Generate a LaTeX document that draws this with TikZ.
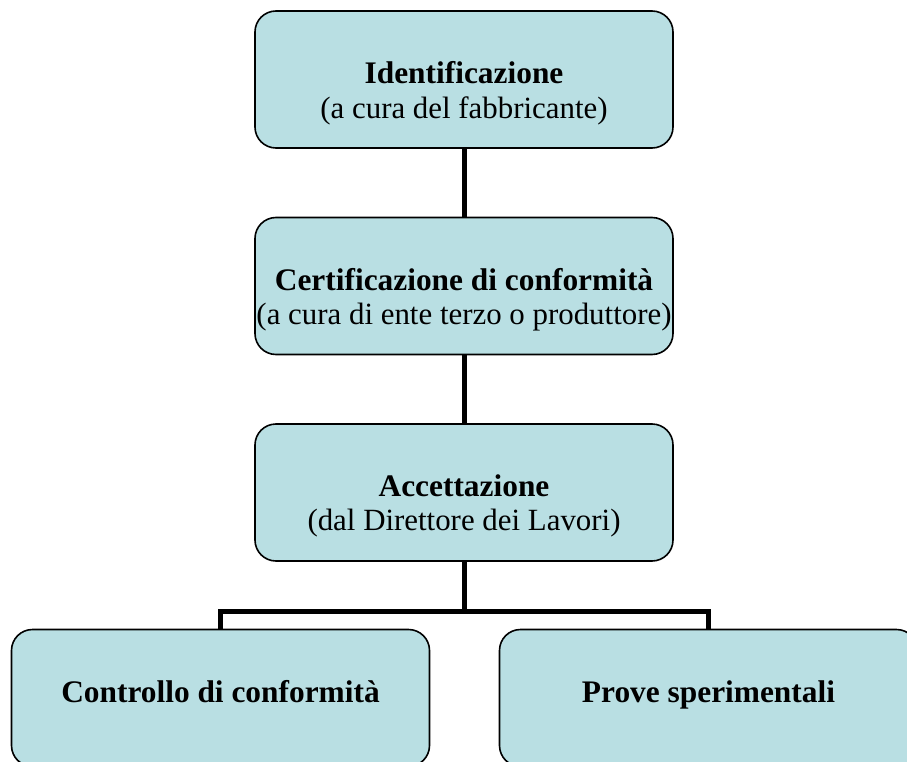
\documentclass[tikz,border=0pt]{standalone}
\usepackage{fontspec}
\setmainfont{Liberation Serif}
\definecolor{boxfill}{HTML}{B9DFE3}
\begin{document}
\begin{tikzpicture}[x=1bp,y=-1bp,
  box/.style={draw=black, line width=1.6bp, fill=boxfill, rounded corners=21bp,
    minimum width=418bp, minimum height=137bp, inner sep=0pt},
  title/.style={anchor=base, inner sep=0pt, font=\fontsize{31.5}{35}\selectfont\bfseries},
  sub/.style={anchor=base, inner sep=0pt, font=\fontsize{31}{35}\selectfont},
  conn/.style={line width=5bp, draw=black}]
\useasboundingbox (0,0) rectangle (907,762);
\clip (0,0) rectangle (907,762);
\node[box] (b1) at (464,79.5) {};
\node[box] (b2) at (464,286) {};
\node[box] (b3) at (464,492.5) {};
\node[box] (b4) at (220.5,698) {};
\node[box] (b5) at (708.5,698) {};
\node[title] (t1) at ([yshift=-73bp]b1.north) {Identificazione};
\node[sub] (s1) at ([yshift=-108bp]b1.north) {(a cura del fabbricante)};
\node[title] (t2) at ([yshift=-74bp]b2.north) {Certificazione di conformità};
\node[sub] (s2) at ([yshift=-108bp]b2.north) {(a cura di ente terzo o produttore)};
\node[title] (t3) at ([yshift=-73bp]b3.north) {Accettazione};
\node[sub] (s3) at ([yshift=-107bp]b3.north) {(dal Direttore dei Lavori)};
\node[title] (t4) at ([yshift=-74bp]b4.north) {Controllo di conformità};
\node[title] (t5) at ([yshift=-74bp]b5.north) {Prove sperimentali};
\coordinate (bar) at (464,611);
\draw[conn] (b1.south) -- (b2.north);
\draw[conn] (b2.south) -- (b3.north);
\draw[conn] (b3.south) -- (bar);
\draw[conn] (b4.north) |- (bar) -| (b5.north);
\end{tikzpicture}
\end{document}
